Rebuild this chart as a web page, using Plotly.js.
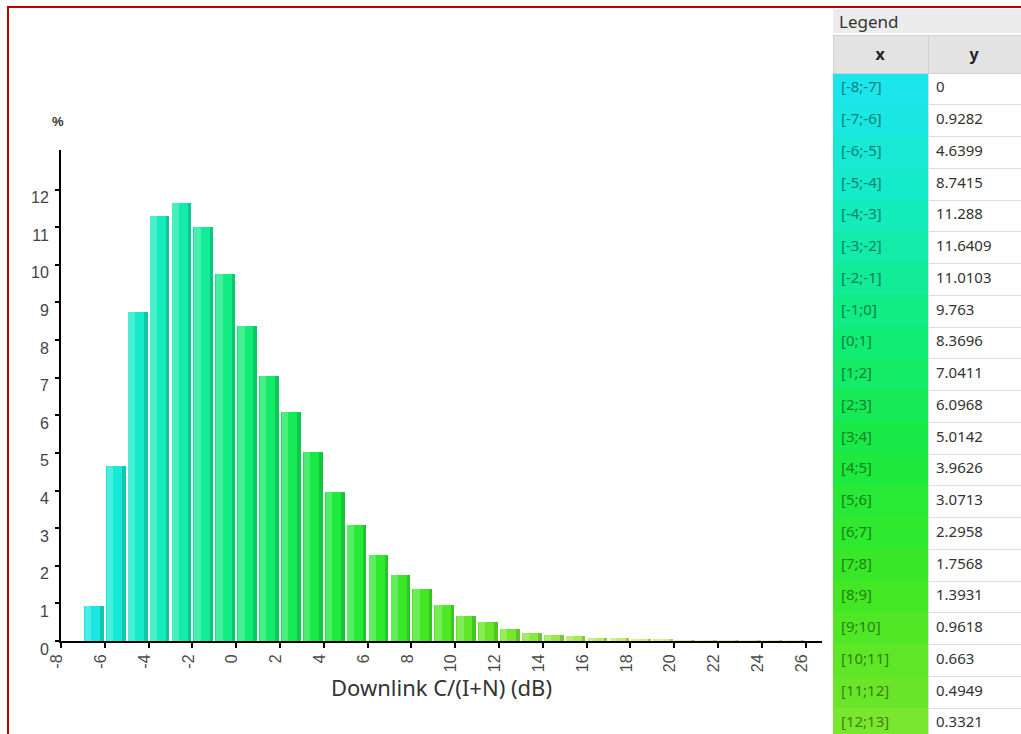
<!DOCTYPE html>
<html>
<head>
<meta charset="utf-8">
<script src="https://cdn.plot.ly/plotly-3.0.1.min.js"></script>
<style>
  html, body { margin: 0; padding: 0; background: #ffffff; }
  #chart { width: 1021px; height: 734px; }
</style>
</head>
<body>
<div id="chart"></div>
<script>
// Downlink C/(I+N) distribution, 1 dB bins
const binLow = [-8, -7, -6, -5, -4, -3, -2, -1, 0, 1, 2, 3, 4, 5, 6, 7, 8, 9, 10, 11, 12,
                13, 14, 15, 16, 17, 18, 19, 20, 21, 22, 23, 24, 25];
const share = [0, 0.9282, 4.6399, 8.7415, 11.288, 11.6409, 11.0103, 9.763, 8.3696, 7.0411,
               6.0968, 5.0142, 3.9626, 3.0713, 2.2958, 1.7568, 1.3931, 0.9618, 0.663, 0.4949,
               0.3321, 0.22, 0.15, 0.12, 0.09, 0.08, 0.06, 0.05, 0.04, 0.04, 0.03, 0.03, 0.03, 0.02];
const xTicks = [-8, -6, -4, -2, 0, 2, 4, 6, 8, 10, 12, 14, 16, 18, 20, 22, 24, 26];
const yTicks = [0, 1, 2, 3, 4, 5, 6, 7, 8, 9, 10, 11, 12];
const tableRows = 21;   // rows that fit in the legend panel

const binLabel = binLow.map(a => '[' + a + ';' + (a + 1) + ']');
const binMid = binLow.map(a => a + 0.5);

// colour ramp: cyan -> green -> pale yellow-green
const ramp = [
  [-8, [30, 228, 242]], [-4, [20, 236, 196]], [0, [16, 236, 124]], [4, [26, 234, 64]],
  [8, [60, 232, 36]], [12, [112, 230, 40]], [16, [180, 234, 90]], [20, [214, 238, 140]],
  [26, [232, 240, 176]]
];
function rampColor(v, k) {
  for (let i = 0; i < ramp.length - 1; i++) {
    const [a, ca] = ramp[i], [b, cb] = ramp[i + 1];
    if (v >= a && v <= b) {
      const t = (v - a) / (b - a);
      const c = ca.map((x, j) => Math.round((x + (cb[j] - x) * t) * k));
      return 'rgb(' + c.join(',') + ')';
    }
  }
  return 'rgb(' + ramp[ramp.length - 1][1].join(',') + ')';
}
const barColors = binMid.map(v => rampColor(v, 1));
const rowLow = binLow.slice(0, tableRows);
const cellColors = rowLow.map(v => rampColor(v + 0.5, 1));
const cellText = rowLow.map(v => rampColor(v + 0.5, 0.55));

const W = 1021, H = 734;
const plotL = 61, plotR = 822, plotT = 150, plotB = 641;
const xDom = [plotL / W, plotR / W];
const yDom = [1 - plotB / H, 1 - plotT / H];
const xRange = [-8, 26.75];
const yRange = [0, 13.05];

const tickFont = { family: 'Liberation Sans, Arial, sans-serif', size: 16, color: '#4a4a4a' };

const traces = [
  {
    type: 'bar', x: binMid, y: share, width: 0.9,
    marker: { color: barColors, line: { width: 0 } },
    hoverinfo: 'skip', showlegend: false
  },
  {
    // soft highlight along the left edge of each bar
    type: 'bar', x: binMid, y: share, width: 0.3, offset: -0.42,
    marker: { color: 'rgba(255,255,255,0.22)', line: { width: 0 } },
    hoverinfo: 'skip', showlegend: false
  },
  {
    // shaded right edge
    type: 'bar', x: binMid, y: share, width: 0.16, offset: 0.29,
    marker: { color: 'rgba(0,70,40,0.22)', line: { width: 0 } },
    hoverinfo: 'skip', showlegend: false
  },
  {
    type: 'table',
    domain: { x: [833 / W, 1], y: [0, 1 - 35 / H] },
    columnwidth: [95, 93],
    header: {
      values: ['<b>x</b>', '<b>y</b>'],
      align: 'center',
      height: 33,
      fill: { color: '#e3e3e3' },
      line: { color: '#d0d0d0', width: 1 },
      font: { family: 'Noto Sans, Open Sans, sans-serif', size: 16, color: '#222222' }
    },
    cells: {
      values: [binLabel.slice(0, tableRows), share.slice(0, tableRows).map(v => String(v))],
      align: 'left',
      height: 31.75,
      fill: { color: [cellColors, rowLow.map(() => '#ffffff')] },
      line: { color: [cellColors, rowLow.map(() => '#dedede')], width: 1 },
      font: {
        family: 'Noto Sans, Open Sans, sans-serif', size: 15,
        color: [cellText, rowLow.map(() => '#333333')]
      }
    }
  }
];

const layout = {
  width: W, height: H,
  margin: { l: 0, r: 0, t: 0, b: 0 },
  paper_bgcolor: '#ffffff', plot_bgcolor: 'rgba(0,0,0,0)',
  barmode: 'overlay', bargap: 0,
  showlegend: false,
  xaxis: {
    domain: xDom, range: xRange, anchor: 'y',
    tickmode: 'array', tickvals: xTicks, ticktext: xTicks.map(String),
    tickangle: -90, ticks: 'outside', ticklen: 5, tickwidth: 2, tickcolor: '#000',
    ticklabelshift: -4, ticklabelstandoff: 0,
    showline: true, linecolor: '#000', linewidth: 2,
    showgrid: false, zeroline: false, tickfont: tickFont,
    title: {
      text: 'Downlink C/(I+N) (dB)', standoff: 8,
      font: { family: 'Noto Sans, Open Sans, sans-serif', size: 22, color: '#333333' }
    }
  },
  xaxis2: {
    overlaying: 'x', anchor: 'y', range: xRange,
    tickmode: 'array', tickvals: xTicks, showticklabels: false,
    ticks: 'inside', ticklen: 5, tickwidth: 2, tickcolor: '#000',
    showline: false, showgrid: false, zeroline: false
  },
  yaxis: {
    domain: yDom, range: yRange, anchor: 'x',
    tickmode: 'array', tickvals: yTicks, ticktext: yTicks.map(String),
    ticks: 'outside', ticklen: 4, tickwidth: 2, tickcolor: '#000',
    ticklabelshift: 8, ticklabelstandoff: 3,
    showline: true, linecolor: '#000', linewidth: 2,
    showgrid: false, zeroline: false,
    tickfont: { family: 'Liberation Sans, Arial, sans-serif', size: 16, color: '#444444' }
  },
  yaxis2: {
    overlaying: 'y', anchor: 'x', range: yRange, side: 'left',
    tickmode: 'array', tickvals: yTicks, showticklabels: false,
    ticks: 'inside', ticklen: 4, tickwidth: 2, tickcolor: '#000',
    showline: false, showgrid: false, zeroline: false
  },
  shapes: [
    {
      // legend caption strip
      type: 'rect', xref: 'paper', yref: 'paper', layer: 'below',
      x0: 833 / W, x1: 1, y0: 1 - 33 / H, y1: 1 - 9 / H,
      fillcolor: '#ececec', line: { width: 0 }
    },
    {
      // frame
      type: 'path', xref: 'paper', yref: 'paper', layer: 'above',
      path: 'M ' + (8 / W) + ',0 L ' + (8 / W) + ',' + (1 - 7 / H) + ' L 1,' + (1 - 7 / H),
      line: { color: '#c00000', width: 2 }
    }
  ],
  annotations: [
    {
      text: 'Legend', xref: 'paper', yref: 'paper',
      x: 837 / W, y: 1 - 21 / H, xanchor: 'left', yanchor: 'middle', showarrow: false,
      font: { family: 'Noto Sans, Open Sans, sans-serif', size: 17, color: '#333333' }
    },
    {
      text: '<b>%</b>', xref: 'paper', yref: 'paper',
      x: 58 / W, y: 1 - 121 / H, xanchor: 'center', yanchor: 'middle', showarrow: false,
      font: { family: 'Liberation Sans, Arial, sans-serif', size: 13, color: '#333333' }
    }
  ]
};

Plotly.newPlot('chart', traces, layout, { displayModeBar: false, staticPlot: true });
</script>
</body>
</html>
